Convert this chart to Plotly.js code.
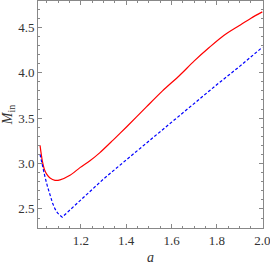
<!DOCTYPE html>
<html><head><meta charset="utf-8">
<script src="https://cdn.plot.ly/plotly-3.0.1.min.js"></script>
<style>html,body{margin:0;padding:0;background:#fff}#c{width:270px;height:265px}</style>
</head><body><div id="c"></div>
<script>
const aRed = [1.02, 1.03, 1.04, 1.05, 1.064, 1.086, 1.108, 1.152, 1.196, 1.24, 1.284, 1.342, 1.4, 1.489, 1.56, 1.635, 1.7, 1.767, 1.83, 1.899, 1.95, 2.0];
const mRed = [3.20, 3.03, 2.93, 2.88, 2.84, 2.815, 2.82, 2.87, 2.955, 3.03, 3.12, 3.258, 3.40, 3.624, 3.80, 3.97, 4.13, 4.28, 4.41, 4.52, 4.60, 4.67];
const aBlue = [1.02, 1.031, 1.042, 1.053, 1.064, 1.075, 1.086, 1.097, 1.108, 1.118, 1.2, 1.3, 1.4, 1.5, 1.6, 1.7, 1.8, 1.9, 2.0];
const mBlue = [3.10, 2.965, 2.85, 2.745, 2.65, 2.566, 2.50, 2.456, 2.43, 2.41, 2.60, 2.83, 3.04, 3.25, 3.46, 3.67, 3.87, 4.07, 4.28];
const xTicks = [1.2, 1.4, 1.6, 1.8, 2.0];
const yTicks = [2.5, 3.0, 3.5, 4.0, 4.5];

const font = {family: '"Liberation Serif", "Times New Roman", serif', size: 13, color: '#333'};
const axisCommon = {
  showgrid: false, zeroline: false, showline: true, linecolor: '#888', linewidth: 1,
  mirror: 'allticks', ticks: 'inside', ticklen: 4, tickcolor: '#888', tickfont: font,
  ticklabeloverflow: 'allow'
};
Plotly.newPlot('c', [
  {x: aRed, y: mRed, mode: 'lines', line: {color: '#ff0000', width: 1.2, shape: 'spline', smoothing: 0.8}, hoverinfo: 'none'},
  {x: aBlue, y: mBlue, mode: 'lines', line: {color: '#0000ff', width: 1.2, dash: '3px,2px'}, hoverinfo: 'none'}
], {
  width: 270, height: 265,
  margin: {l: 38, r: 7, t: 1, b: 37},
  paper_bgcolor: '#fff', plot_bgcolor: '#fff',
  showlegend: false,
  xaxis: Object.assign({}, axisCommon, {
    range: [1.011, 2.003], tickvals: xTicks, ticktext: xTicks.map(v => v.toFixed(1)),
    minor: {dtick: 0.05, tick0: 1.0, ticks: 'inside', ticklen: 2, tickcolor: '#888'},
    title: {text: '<i>a</i>', font: Object.assign({}, font, {size: 14}), standoff: 14}
  }),
  yaxis: Object.assign({}, axisCommon, {
    range: [2.29, 4.79], tickvals: yTicks, ticktext: yTicks.map(v => v.toFixed(1)),
    minor: {dtick: 0.1, tick0: 2.0, ticks: 'inside', ticklen: 2, tickcolor: '#888'},
    title: {text: '<i>M</i><sub>in</sub>', font: Object.assign({}, font, {size: 14}), standoff: 3}
  })
}, {staticPlot: true});
</script></body></html>
